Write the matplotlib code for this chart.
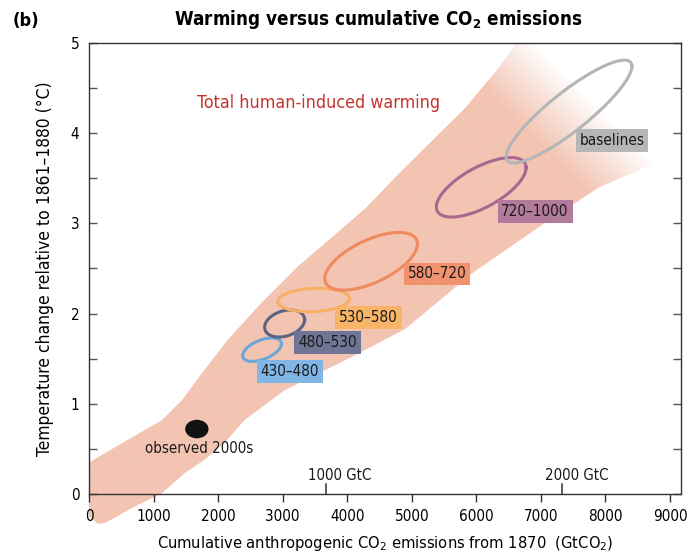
import numpy as np
import matplotlib
matplotlib.use('Agg')
import matplotlib.pyplot as plt
from matplotlib import font_manager
from matplotlib.patches import Polygon, Ellipse

# pick a narrow sans if one is around
ttf = font_manager.fontManager.ttflist
names = set(f.name for f in ttf)
stretch = 'normal'
if 'Liberation Sans Narrow' in names:
    family = 'Liberation Sans Narrow'
elif any(f.name == 'DejaVu Sans' and f.stretch == 'condensed' for f in ttf):
    family = 'DejaVu Sans'
    stretch = 'condensed'
else:
    family = 'Roboto' if 'Roboto' in names else 'DejaVu Sans'
plt.rcParams['font.family'] = [family, 'DejaVu Sans']
plt.rcParams['font.stretch'] = stretch
plt.rcParams['mathtext.fontset'] = 'custom'
plt.rcParams['mathtext.rm'] = family
plt.rcParams['mathtext.bf'] = family + ':bold'

# GtCO2 per GtC
co2_per_c = 44.0 / 12.0

# likely range of total human-induced warming (upper edge, then lower edge back)
band_upper_x = [0, 600, 1130, 1440, 1750, 2150, 2670, 3230, 3770, 4300, 4810, 5320, 5840, 6350, 6620, 7600, 9170]
band_upper_y = [0.35, 0.60, 0.82, 1.04, 1.34, 1.71, 2.12, 2.52, 2.85, 3.18, 3.56, 3.92, 4.29, 4.73, 5.0, 5.0, 5.0]
band_lower_x = [9170, 8780, 7900, 6970, 5940, 4900, 4070, 3650, 3340, 3030, 2670, 2410, 2100, 1790, 1480, 1130, 710, 250, 140, 0]
band_lower_y = [3.90, 3.67, 3.40, 2.96, 2.45, 1.83, 1.52, 1.37, 1.26, 1.15, 0.96, 0.82, 0.57, 0.38, 0.23, 0.01, -0.14, -0.32, -0.33, -0.25]

# scenario categories (ppm CO2-eq in 2100): centre, half ranges and tilt
cat_names = ['430\u2013480', '480\u2013530', '530\u2013580', '580\u2013720', '720\u20131000', 'baselines']
cat_cx = [2680, 3030, 3480, 4370, 6075, 7435]
cat_cy = [1.60, 1.89, 2.15, 2.58, 3.40, 4.24]
cat_rx = [300, 310, 556, 718, 695, 974]
cat_ry = [0.13, 0.15, 0.13, 0.32, 0.33, 0.57]
cat_rho = [0.5, 0.28, 0.12, 0.6, 0.66, 0.88]
cat_line = ['#6aa6d8', '#5b6283', '#f6b063', '#ef8a5e', '#a86690', '#b3b5b8']
cat_box = ['#80b6e6', '#6f7595', '#f8b568', '#f0926e', '#b27b9b', '#b6b6b6']
cat_lab_x = [3107, 3694, 4328, 5394, 6909, 8099]
cat_lab_y = [1.36, 1.68, 1.96, 2.44, 3.13, 3.92]

obs_x = 1670
obs_y = 0.72

gtc_marks = [1000, 2000]

band_color = np.array([243, 196, 178]) / 255.0

fig = plt.figure(figsize=(6.87, 5.59), dpi=100)
ax = fig.add_axes([0.1296, 0.1163, 0.8617, 0.8068])
xmax = 9170

# shaded band, fading out towards the upper right
band_xy = np.column_stack([band_upper_x + band_lower_x, band_upper_y + band_lower_y])
clip_poly = Polygon(band_xy, closed=True, transform=ax.transData, facecolor='none', edgecolor='none')
gx = np.linspace(0, xmax, 460)
gy = np.linspace(-0.5, 5, 330)
GX, GY = np.meshgrid(gx, gy)
along = GX / 1000.0 + 1.394 * GY
alpha = np.clip((13.9 - along) / 1.5, 0, 1)
rgba = np.zeros(GX.shape + (4,))
rgba[..., :3] = band_color
rgba[..., 3] = alpha
im = ax.imshow(rgba, origin='lower', extent=[0, xmax, -0.5, 5], aspect='auto',
               interpolation='bilinear', zorder=1)
im.set_clip_path(clip_poly)
im.set_clip_box(fig.bbox)
ax.set_xlim(0, xmax)
ax.set_ylim(0, 5)

t = np.linspace(0, 2 * np.pi, 240)
for i in range(len(cat_names)):
    ex = cat_cx[i] + cat_rx[i] * np.cos(t)
    ey = cat_cy[i] + cat_ry[i] * np.cos(t - np.arccos(cat_rho[i]))
    ax.plot(ex, ey, color=cat_line[i], lw=2.2, zorder=3)
    ax.text(cat_lab_x[i], cat_lab_y[i], cat_names[i], ha='center', va='center', fontsize=11,
            color='#1a1a1a', zorder=4,
            bbox=dict(boxstyle='square,pad=0.25', fc=cat_box[i], ec='none'))

ax.add_patch(Ellipse((obs_x, obs_y), 340, 0.19, color='#111111', zorder=4))
ax.text(obs_x + 40, obs_y - 0.22, 'observed 2000s', ha='center', va='center', fontsize=10.8, color='#1a1a1a')

ax.text(1670, 4.33, 'Total human-induced warming', ha='left', va='center', fontsize=12.8, color='#c8322e')

for g in gtc_marks:
    ax.plot([g * co2_per_c, g * co2_per_c], [0, 0.11], color='#333333', lw=1.1, zorder=5)
    ax.annotate('%d GtC' % g, (g * co2_per_c, 0.21), xytext=(10, 0), textcoords='offset points',
                ha='center', va='center', fontsize=10.8, color='#1a1a1a')

for s in ax.spines.values():
    s.set_color('#333333')
    s.set_linewidth(1.0)
    s.set_zorder(6)

ax.set_xticks(np.arange(0, 9001, 1000))
ax.set_yticks(np.arange(0, 6, 1))
ax.set_yticks(np.arange(0.5, 5, 1), minor=True)
ax.tick_params(axis='x', direction='out', length=6, width=1, color='#333333', labelsize=11, pad=5)
ax.tick_params(axis='y', which='both', direction='in', length=6, width=1, color='#555555',
               right=True, labelsize=11, pad=7)

ax.set_xlabel('Cumulative anthropogenic CO$_\\mathregular{2}$ emissions from 1870  (GtCO$_\\mathregular{2}$)',
              fontsize=11.8, labelpad=7)
ax.set_ylabel('Temperature change relative to 1861\u20131880 (\u00b0C)', fontsize=12.5, labelpad=12)

fig.text(0.55, 0.965, 'Warming versus cumulative CO$_\\mathbf{2}$ emissions', ha='center', va='center',
         fontsize=13.5, fontweight='bold')
fig.text(0.018, 0.962, '(b)', ha='left', va='center', fontsize=13, fontweight='bold')

fig.savefig('out.png', dpi=100)
